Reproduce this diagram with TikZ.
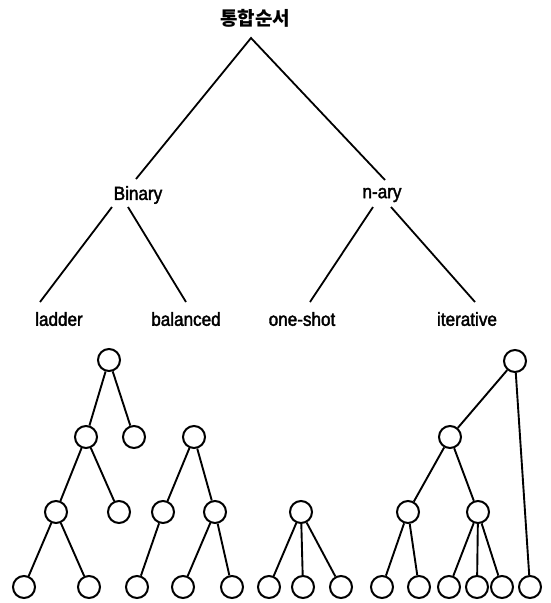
\documentclass[tikz,border=0pt]{standalone}
\usepackage{fontspec}
\setmainfont{Liberation Sans}
\newfontfamily\lblfont[FakeStretch=0.9,FakeBold=2]{Liberation Sans}
\newfontfamily\kofont{Noto Sans CJK KR}
\usetikzlibrary{calc}
\begin{document}
\begin{tikzpicture}[x=1pt,y=-1pt,
  lbl/.style={font=\lblfont\fontsize{19}{21}\selectfont,inner sep=0},
  cnode/.style={circle,draw,line width=2pt,minimum size=22pt,inner sep=0},
  edge/.style={line width=1.9pt},
  tline/.style={line width=1.8pt}]
\useasboundingbox[fill=white] (0,0) rectangle (550,603);
% labels
\node[inner sep=0,font=\kofont\bfseries\fontsize{19}{21}\selectfont] (top) at (255,18) {통합순서};
\node[lbl] (bin) at (138,195) {Binary};
\node[lbl] (nary) at (382,195) {n-ary};
\node[lbl] (lad) at (59,319) {ladder};
\node[lbl] (bal) at (186,319) {balanced};
\node[lbl] (one) at (302,319) {one-shot};
\node[lbl] (ite) at (467,319) {iterative};
\draw[tline] ($(bin.center)+(-2,-16)$) -- ($(top.center)+(-4,20)$) -- ($(nary.center)+(3,-15)$);
\draw[tline] ($(bin.center)+(-26,12)$) -- ($(lad.center)+(-19,-17)$);
\draw[tline] ($(bin.center)+(-10,12)$) -- ($(bal.center)+(0,-17)$);
\draw[tline] ($(nary.center)+(-9,12)$) -- ($(one.center)+(8,-17)$);
\draw[tline] ($(nary.center)+(9,12)$) -- ($(ite.center)+(8,-17)$);
% ladder tree
\node[cnode] (l1) at (109,360) {};
\node[cnode] (l2a) at (86,437) {};
\node[cnode] (l2b) at (134,437) {};
\node[cnode] (l3a) at (56,512) {};
\node[cnode] (l3b) at (119,512) {};
\node[cnode] (l4a) at (24,587) {};
\node[cnode] (l4b) at (89,587) {};
\draw[edge] (l1) -- (l2a); \draw[edge] (l1) -- (l2b);
\draw[edge] (l2a) -- (l3a); \draw[edge] (l2a) -- (l3b);
\draw[edge] (l3a) -- (l4a); \draw[edge] (l3a) -- (l4b);
% balanced tree
\node[cnode] (b1) at (194,437) {};
\node[cnode] (b2a) at (163,512) {};
\node[cnode] (b2b) at (215,512) {};
\node[cnode] (b3a) at (137,587) {};
\node[cnode] (b3b) at (183,587) {};
\node[cnode] (b3c) at (232,587) {};
\draw[edge] (b1) -- (b2a); \draw[edge] (b1) -- (b2b);
\draw[edge] (b2a) -- (b3a);
\draw[edge] (b2b) -- (b3b); \draw[edge] (b2b) -- (b3c);
% one-shot tree
\node[cnode] (o1) at (301,512) {};
\node[cnode] (o2a) at (269,587) {};
\node[cnode] (o2b) at (303,587) {};
\node[cnode] (o2c) at (341,587) {};
\draw[edge] (o1) -- (o2a); \draw[edge] (o1) -- (o2b); \draw[edge] (o1) -- (o2c);
% iterative tree
\node[cnode] (i1) at (515,361) {};
\node[cnode] (i2) at (450,437) {};
\node[cnode] (i3a) at (408,512) {};
\node[cnode] (i3b) at (478,512) {};
\node[cnode] (i4a) at (382,587) {};
\node[cnode] (i4b) at (419,587) {};
\node[cnode] (i4c) at (449,587) {};
\node[cnode] (i4d) at (477,587) {};
\node[cnode] (i4e) at (502,587) {};
\node[cnode] (i4f) at (530,587) {};
\draw[edge] (i1) -- (i2); \draw[edge] (i1) -- (i4f);
\draw[edge] (i2) -- (i3a); \draw[edge] (i2) -- (i3b);
\draw[edge] (i3a) -- (i4a); \draw[edge] (i3a) -- (i4b);
\draw[edge] (i3b) -- (i4c); \draw[edge] (i3b) -- (i4d); \draw[edge] (i3b) -- (i4e);
\end{tikzpicture}
\end{document}
